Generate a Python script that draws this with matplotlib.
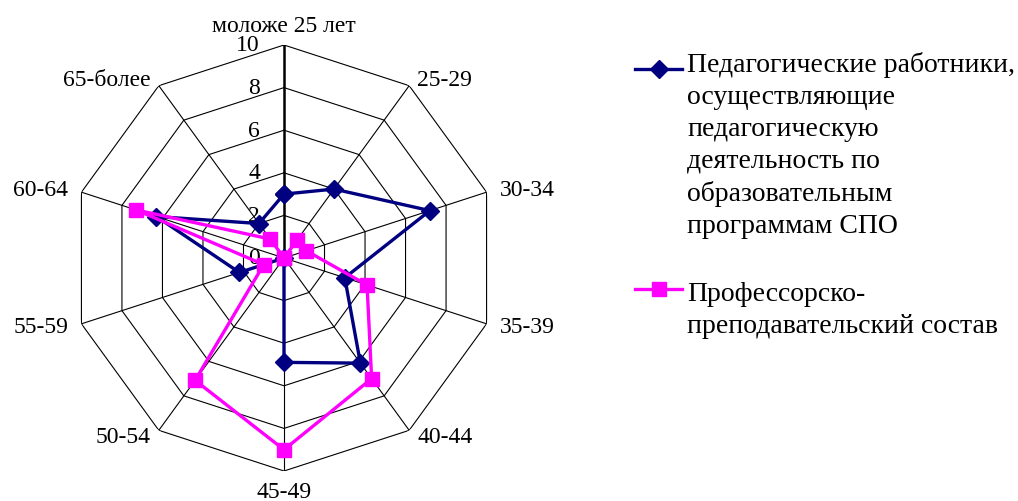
import numpy as np
import matplotlib.pyplot as plt
from matplotlib.lines import Line2D

plt.rcParams['font.family'] = ['Liberation Serif', 'DejaVu Serif']

categories = ['моложе 25 лет', '25-29', '30-34', '35-39', '40-44',
              '45-49', '50-54', '55-59', '60-64', '65-более']
spo = [3.0, 4.0, 7.2, 3.0, 6.1, 4.9, 0.0, 2.2, 6.3, 2.0]
pps = [0.0, 1.05, 1.1, 4.1, 7.0, 9.0, 7.1, 1.0, 7.3, 1.1]
levels = [0, 2, 4, 6, 8, 10]
label_spo = ('Педагогические работники,\nосуществляющие\nпедагогическую\n'
             'деятельность по\nобразовательным\nпрограммам СПО')
label_pps = 'Профессорско-\nпреподавательский состав'

navy = '#000080'
magenta = '#FF00FF'
serif = ['Liberation Serif']
fs = 17
fs_leg = 20

fig = plt.figure(figsize=(10.18, 5.02), dpi=100)
ax = fig.add_axes([71 / 1018, 30 / 502, 426 / 1018, 426 / 502], projection='polar')
ax.set_theta_zero_location('N')
ax.set_theta_direction(-1)
ax.set_ylim(0, 10)
ax.grid(False)
ax.spines['polar'].set_visible(False)
ax.set_xticks([])
ax.set_yticks([])
ax.patch.set_visible(False)

n = len(categories)
theta = np.arange(n) * 2 * np.pi / n
closed = np.append(theta, theta[0])

# polygon grid and spokes
for lv in levels[1:]:
    ax.plot(closed, [lv] * (n + 1), color='black', lw=0.8, zorder=1)
for t in theta[1:]:
    ax.plot([t, t], [0, 10], color='black', lw=0.8, zorder=1)
ax.plot([0, 0], [0, 10], color='black', lw=1.8, zorder=1)

# radial tick labels
for lv in levels:
    ax.annotate(str(lv), xy=(0, lv), xytext=(-24, 0), textcoords='offset pixels',
                ha='right', va='center', fontsize=fs, family=serif)

# category labels
for t, name in zip(theta, categories):
    s, c = np.sin(t), np.cos(t)
    if abs(s) < 0.1:
        ha = 'center'
        va = 'baseline'
        off = (0, 14) if c > 0 else (0, -26)
    else:
        ha = 'left' if s > 0 else 'right'
        va = 'center'
        off = (14 * s, 8 * c)
    ax.annotate(name, xy=(t, 10), xytext=off, textcoords='offset pixels',
                ha=ha, va=va, fontsize=fs, family=serif)

ax.plot(closed, spo + spo[:1], color=navy, lw=2.4, marker='D', ms=9,
        zorder=3, clip_on=False)
ax.plot(closed, pps + pps[:1], color=magenta, lw=2.4, marker='s', ms=10.5,
        zorder=4, clip_on=False)

# legend drawn by hand to keep the handle on the first line
W, H = 1018, 502
fig.add_artist(Line2D([635 / W, 658.5 / W, 682 / W], [1 - 70 / H] * 3, color=navy,
                      lw=2.4, marker='D', ms=9, markevery=[1]))
fig.add_artist(Line2D([635 / W, 658.5 / W, 682 / W], [1 - 290 / H] * 3, color=magenta,
                      lw=2.4, marker='s', ms=10.5, markevery=[1]))
# va='baseline' puts the last line's baseline at y
fig.text(687 / W, 1 - 233 / H, label_spo, ha='left', va='baseline', fontsize=fs_leg,
         linespacing=1.36, family=serif)
fig.text(687 / W, 1 - 333 / H, label_pps, ha='left', va='baseline', fontsize=fs_leg,
         linespacing=1.36, family=serif)

fig.savefig('out.png', dpi=100)
